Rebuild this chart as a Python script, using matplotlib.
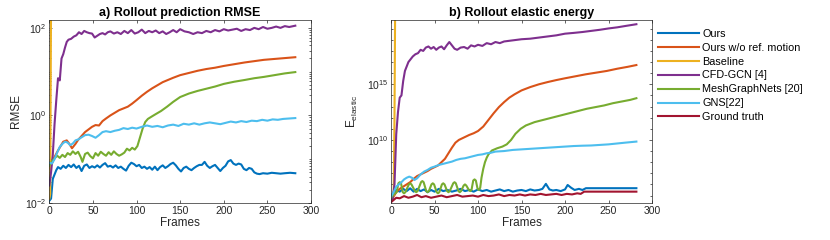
import numpy as np
import matplotlib
matplotlib.use('Agg')
import matplotlib.pyplot as plt
from matplotlib.ticker import FixedLocator, LogLocator, NullFormatter

plt.rcParams['font.family'] = ['Liberation Sans', 'DejaVu Sans']
plt.rcParams['mathtext.fontset'] = 'custom'
plt.rcParams['mathtext.rm'] = 'Liberation Sans'
plt.rcParams['mathtext.it'] = 'Liberation Sans:italic'
plt.rcParams['mathtext.bf'] = 'Liberation Sans:bold'

names = ['Ours', 'Ours w/o ref. motion', 'Baseline', 'CFD-GCN [4]',
         'MeshGraphNets [20]', 'GNS[22]', 'Ground truth']
colors = ['#0072BD', '#D95319', '#EDB120', '#7E2F8E', '#77AC30', '#4DBEEE', '#A2142F']

# ---------- a) RMSE, values given as log10 ----------
ours_f = [0, 2, 4, 6, 8, 10, 13, 16, 19, 22, 25, 28, 31, 34, 37, 40, 43, 46, 49, 52, 55, 58, 61, 64, 67,
          70, 73, 76, 79, 82, 85, 88, 91, 94, 97, 100, 103, 106, 109, 112, 115, 118, 121, 124, 127,
          130, 133, 136, 139, 142, 145, 148, 151, 154, 157, 160, 163, 166, 169, 172, 175, 178, 181,
          184, 187, 190, 193, 196, 199, 202, 205, 208, 211, 214, 217, 220, 223, 226, 229, 232, 235,
          238, 241, 245, 250, 255, 260, 265, 270, 276, 282]
ours_r = [-1.95, -1.9, -1.45, -1.35, -1.25, -1.18, -1.22, -1.15, -1.2, -1.13, -1.18, -1.12, -1.2, -1.15,
          -1.27, -1.15, -1.12, -1.2, -1.16, -1.19, -1.14, -1.19, -1.13, -1.09, -1.17, -1.15, -1.19,
          -1.14, -1.2, -1.17, -1.22, -1.26, -1.15, -1.08, -1.11, -1.16, -1.13, -1.2, -1.17, -1.22,
          -1.18, -1.24, -1.17, -1.25, -1.18, -1.14, -1.2, -1.16, -1.11, -1.08, -1.14, -1.22, -1.28,
          -1.2, -1.17, -1.22, -1.25, -1.2, -1.16, -1.13, -1.13, -1.06, -1.15, -1.2, -1.16, -1.13,
          -1.2, -1.27, -1.2, -1.15, -1.05, -1.02, -1.1, -1.13, -1.1, -1.12, -1.22, -1.25, -1.2,
          -1.22, -1.3, -1.33, -1.34, -1.32, -1.33, -1.31, -1.32, -1.33, -1.32, -1.31, -1.32]

woref_f = [0, 3, 6, 10, 13, 16, 20, 23, 26, 30, 33, 37, 41, 45, 49, 53, 57, 61, 65, 70, 75, 80, 85, 90,
           95, 100, 106, 112, 118, 124, 130, 136, 142, 150, 160, 170, 180, 190, 200, 212, 224, 235,
           246, 258, 270, 282]
woref_r = [-1.2, -1.1, -0.95, -0.8, -0.7, -0.6, -0.57, -0.65, -0.75, -0.65, -0.56, -0.47, -0.38, -0.32,
           -0.26, -0.22, -0.23, -0.13, -0.07, 0.0, 0.06, 0.12, 0.16, 0.2, 0.27, 0.35, 0.45, 0.54, 0.62,
           0.69, 0.76, 0.81, 0.86, 0.92, 0.97, 1.02, 1.06, 1.09, 1.13, 1.17, 1.21, 1.24, 1.27, 1.29,
           1.31, 1.33]

base_f_a = [0, 1, 2, 3]
base_r = [-1.9, -1.8, 2.5, 6.0]

gcn_f_a = [0, 2, 4, 6, 8, 10, 12, 14, 16, 18, 20, 22, 25, 28, 31, 34, 37, 40, 43, 46, 49, 52, 55, 58,
           61, 64, 67, 70, 74, 78, 82, 86, 90, 94, 98, 102, 106, 110, 114, 118, 122, 126, 130, 134,
           138, 142, 146, 150, 155, 160, 165, 170, 175, 180, 185, 190, 195, 200, 205, 210, 215, 220,
           225, 230, 235, 240, 245, 250, 255, 260, 265, 270, 275, 282]
gcn_r = [-1.6, -1.3, -0.9, -0.2, 0.35, 0.85, 0.8, 1.3, 1.4, 1.55, 1.68, 1.73, 1.75, 1.8, 1.83, 1.9,
         1.86, 1.93, 1.9, 1.88, 1.87, 1.78, 1.82, 1.86, 1.88, 1.85, 1.9, 1.92, 1.87, 1.9, 1.86, 1.93,
         1.88, 1.95, 1.87, 1.9, 1.96, 1.88, 1.93, 1.9, 1.94, 1.88, 1.92, 1.86, 1.9, 1.95, 1.9, 1.97,
         1.92, 1.9, 1.86, 1.9, 1.88, 1.93, 1.9, 1.95, 1.92, 1.97, 1.94, 1.96, 1.98, 1.93, 1.97, 1.95,
         2.0, 1.97, 2.02, 1.98, 2.0, 2.03, 2.0, 2.04, 2.02, 2.05]

mgn_f_a = [0, 3, 6, 9, 12, 15, 18, 21, 24, 27, 30, 33, 36, 38, 41, 44, 47, 50, 53, 56, 59, 62, 65, 68,
           71, 74, 77, 80, 83, 86, 89, 92, 95, 98, 101, 104, 107, 110, 113, 117, 122, 128, 135, 142,
           150, 160, 170, 180, 190, 200, 212, 224, 235, 246, 258, 270, 282]
mgn_r = [-1.15, -1.05, -0.98, -0.92, -0.97, -0.9, -0.95, -0.86, -0.9, -0.82, -0.88, -0.83, -0.95, -1.06,
         -0.88, -0.85, -0.93, -0.98, -0.86, -0.92, -0.83, -0.88, -0.92, -0.84, -0.9, -0.82, -0.88,
         -0.92, -0.89, -0.85, -0.76, -0.8, -0.74, -0.78, -0.7, -0.5, -0.3, -0.15, -0.08, -0.03, 0.03,
         0.1, 0.2, 0.31, 0.42, 0.5, 0.56, 0.61, 0.66, 0.72, 0.77, 0.81, 0.85, 0.88, 0.92, 0.96, 0.99]

gns_f_a = [0, 3, 6, 9, 12, 15, 18, 21, 24, 27, 30, 33, 37, 41, 45, 49, 53, 57, 61, 65, 70, 75, 80, 85,
           90, 95, 100, 106, 112, 118, 124, 130, 136, 142, 148, 154, 160, 166, 172, 178, 184, 190,
           196, 202, 208, 214, 220, 226, 232, 238, 244, 250, 256, 262, 268, 275, 282]
gns_r = [-1.08, -1.1, -1.0, -0.85, -0.72, -0.65, -0.6, -0.62, -0.68, -0.64, -0.57, -0.55, -0.5, -0.45,
         -0.44, -0.47, -0.51, -0.45, -0.38, -0.36, -0.38, -0.35, -0.33, -0.29, -0.31, -0.28, -0.3,
         -0.26, -0.23, -0.26, -0.24, -0.27, -0.23, -0.21, -0.24, -0.19, -0.21, -0.18, -0.21, -0.18,
         -0.16, -0.18, -0.2, -0.17, -0.14, -0.16, -0.13, -0.15, -0.12, -0.13, -0.1, -0.12, -0.09,
         -0.1, -0.08, -0.07, -0.06]

# ---------- b) elastic energy, values given as log10 ----------
ours_fb = [0, 3, 6, 10, 14, 18, 22, 26, 30, 34, 38, 42, 46, 50, 55, 60, 65, 70, 75, 80, 85, 90, 95,
           100, 105, 110, 115, 120, 125, 130, 135, 140, 145, 150, 155, 160, 165, 170, 174, 178, 182,
           186, 190, 195, 200, 203, 207, 211, 216, 220, 224, 230, 240, 250, 260, 270, 282]
ours_e = [4.9, 5.3, 5.5, 5.35, 5.6, 5.4, 5.65, 5.35, 5.6, 5.4, 5.55, 5.3, 5.5, 5.35, 5.6, 5.4, 5.5,
          5.35, 5.45, 5.6, 5.4, 5.5, 5.35, 5.55, 5.4, 5.5, 5.35, 5.45, 5.55, 5.4, 5.5, 5.35, 5.45,
          5.5, 5.4, 5.55, 5.45, 5.5, 5.6, 6.05, 5.55, 5.45, 5.5, 5.4, 5.55, 5.95, 5.7, 5.5, 5.6, 5.5,
          5.66, 5.66, 5.66, 5.66, 5.66, 5.66, 5.66]

woref_fb = [0, 3, 6, 10, 14, 18, 22, 26, 30, 34, 38, 42, 46, 50, 54, 58, 62, 66, 70, 74, 78, 82, 86,
            90, 95, 100, 106, 112, 118, 124, 130, 136, 142, 150, 160, 170, 180, 190, 200, 212, 224,
            236, 248, 260, 272, 282]
woref_e = [4.6, 4.9, 5.3, 5.6, 5.8, 6.0, 6.2, 6.5, 6.75, 6.9, 7.05, 7.2, 7.4, 7.55, 7.7, 8.0, 8.3, 8.8,
           9.3, 9.75, 10.0, 10.15, 10.3, 10.45, 10.6, 10.8, 11.2, 11.8, 12.4, 12.95, 13.4, 13.8, 14.1,
           14.45, 14.75, 15.0, 15.2, 15.38, 15.54, 15.72, 15.9, 16.05, 16.2, 16.4, 16.57, 16.73]

base_fb = [0, 3, 4, 5]
base_e = [4.6, 5.0, 12.0, 25.0]

gcn_fb = [0, 2, 4, 6, 8, 10, 12, 14, 16, 18, 20, 22, 25, 28, 31, 34, 37, 40, 43, 46, 49, 52, 55, 58,
          61, 64, 67, 70, 73, 76, 80, 84, 88, 92, 96, 100, 105, 110, 115, 120, 125, 130, 135, 140,
          145, 150, 160, 170, 180, 190, 200, 210, 220, 230, 240, 250, 260, 270, 282]
gcn_e = [4.6, 4.7, 6.0, 10.5, 12.5, 13.8, 14.0, 15.3, 16.2, 16.6, 17.0, 17.2, 17.5, 17.7, 17.8, 18.1,
         18.0, 18.3, 18.4, 18.2, 18.35, 18.1, 18.3, 18.4, 18.15, 18.5, 18.8, 18.5, 18.2, 18.1, 18.3,
         18.35, 18.2, 18.5, 18.4, 18.55, 18.45, 18.7, 18.6, 18.8, 18.7, 18.85, 18.9, 18.95, 19.0,
         19.05, 19.1, 19.2, 19.3, 19.4, 19.55, 19.62, 19.7, 19.8, 19.9, 20.02, 20.12, 20.25, 20.4]

mgn_fb = [0, 3.5, 5, 6.5, 8.5, 10, 11.5, 13.5, 15, 16.5, 20.5, 22, 23.5, 27.5, 29, 30.5, 34.5, 36,
          37.5, 40.5, 42, 43.5, 46.5, 48, 49.5, 52.5, 54, 55.5, 58.5, 60, 61.5, 64.5, 66, 67.5, 71.5,
          73, 74.5, 77.5, 79, 80.5, 83.5, 85, 86.5, 89.5, 91, 92.5, 94.5, 96, 97.5, 99.5, 101, 102.5,
          104, 106, 108, 110, 112, 116, 122, 128, 133, 138, 143, 149, 155, 165, 175, 185, 195, 205,
          215, 225, 235, 245, 255, 265, 275, 282]
mgn_e = [4.8, 5.15, 5.2, 5.3, 6.1, 6.2, 6.1, 5.3, 5.2, 5.3, 6.0, 6.1, 6.0, 5.4, 5.3, 5.4, 6.2, 6.3,
         6.2, 5.4, 5.3, 5.4, 6.0, 6.1, 6.0, 5.3, 5.2, 5.3, 6.0, 6.1, 6.0, 5.4, 5.3, 5.4, 6.1, 6.2, 6.1,
         5.4, 5.3, 5.4, 5.9, 6.0, 5.9, 5.5, 5.4, 5.5, 6.35, 6.45, 6.35, 5.6, 5.5, 5.7, 6.6, 7.4, 8.0,
         8.4, 8.7, 9.05, 9.25, 9.4, 9.6, 10.0, 10.55, 11.0, 11.3, 11.6, 11.8, 12.0, 12.2, 12.4, 12.6,
         12.8, 12.95, 13.1, 13.3, 13.45, 13.6, 13.75]

gns_fb = [0, 3, 6, 9, 12, 15, 18, 21, 24, 27, 30, 34, 38, 42, 46, 50, 55, 60, 65, 70, 75, 80, 85, 90,
          95, 100, 105, 110, 115, 120, 130, 140, 150, 160, 170, 180, 190, 200, 210, 220, 230, 240,
          250, 260, 270, 282]
gns_e = [4.9, 5.3, 5.8, 6.0, 6.2, 6.45, 6.6, 6.7, 6.6, 6.4, 6.55, 6.9, 7.15, 7.3, 7.5, 7.6, 7.75,
         7.85, 7.95, 8.05, 8.2, 8.3, 8.35, 8.45, 8.55, 8.65, 8.7, 8.8, 8.85, 8.95, 9.0, 9.1, 9.15, 9.2,
         9.25, 9.3, 9.35, 9.4, 9.45, 9.48, 9.5, 9.55, 9.6, 9.68, 9.76, 9.85]

gt_fb = [0, 3, 6, 10, 15, 20, 25, 30, 35, 40, 46, 52, 58, 64, 70, 76, 82, 88, 94, 100, 106, 112, 118,
         124, 130, 136, 142, 148, 154, 160, 166, 172, 178, 184, 190, 196, 202, 208, 214, 218, 222,
         230, 240, 250, 260, 270, 282]
gt_e = [4.4, 4.6, 4.8, 4.75, 4.95, 4.8, 4.9, 5.05, 4.85, 4.95, 4.8, 4.9, 5.0, 4.85, 4.95, 5.05, 4.9,
        4.95, 5.0, 4.9, 5.05, 4.95, 5.0, 5.1, 4.95, 5.05, 5.0, 5.1, 5.0, 5.1, 5.05, 5.15, 5.05, 5.1,
        5.15, 5.05, 5.15, 5.1, 5.2, 5.15, 5.35, 5.35, 5.35, 5.35, 5.35, 5.35, 5.35]

panel_a = [(ours_f, ours_r), (woref_f, woref_r), (base_f_a, base_r), (gcn_f_a, gcn_r),
           (mgn_f_a, mgn_r), (gns_f_a, gns_r)]
panel_b = [(ours_fb, ours_e), (woref_fb, woref_e), (base_fb, base_e), (gcn_fb, gcn_e),
           (mgn_fb, mgn_e), (gns_fb, gns_e), (gt_fb, gt_e)]

fig = plt.figure(figsize=(8.3, 2.4), dpi=100)
ax1 = fig.add_axes([0.0594, 0.1542, 0.3153, 0.7625])
ax2 = fig.add_axes([0.4711, 0.1542, 0.3145, 0.7625])

for (f, v), c in zip(panel_a, colors):
    ax1.plot(f, 10 ** np.array(v), color=c, lw=1.5)
lines = []
for (f, v), c, n in zip(panel_b, colors, names):
    ln, = ax2.plot(f, 10 ** np.array(v), color=c, lw=1.5, label=n)
    lines.append(ln)

tc = '#262626'
for ax in (ax1, ax2):
    ax.set_yscale('log')
    ax.set_xlim(0, 300)
    ax.set_xticks(range(0, 301, 50))
    ax.tick_params(which='both', direction='in', top=True, right=True, colors=tc,
                   labelsize=7.5, width=0.5)
    ax.tick_params(which='major', length=2.5, pad=2)
    ax.tick_params(which='minor', length=1.5)
    for s in ax.spines.values():
        s.set_color(tc)
        s.set_linewidth(0.5)
    ax.set_xlabel('Frames', fontsize=8.5, color=tc, labelpad=1)

ax1.set_ylim(1e-2, 10 ** 2.18)
ax1.yaxis.set_major_locator(FixedLocator([1e-2, 1e0, 1e2]))
ax1.yaxis.set_minor_locator(LogLocator(base=10, subs=np.arange(1, 10), numticks=30))
ax1.yaxis.set_minor_formatter(NullFormatter())
ax1.set_ylabel('RMSE', fontsize=8.5, color=tc, labelpad=2)
ax1.set_title('a) Rollout prediction RMSE', fontsize=9, fontweight='bold', pad=3)

ax2.set_ylim(10 ** 4.33, 10 ** 20.78)
ax2.yaxis.set_major_locator(FixedLocator([1e10, 1e15]))
ax2.yaxis.set_minor_locator(LogLocator(base=10, subs=(1.0,), numticks=40))
ax2.yaxis.set_minor_formatter(NullFormatter())
ax2.set_ylabel('E$_{\\mathrm{elastic}}$', fontsize=8.5, color=tc, labelpad=5)
ax2.set_title('b) Rollout elastic energy', fontsize=9, fontweight='bold', pad=3)

fig.legend(handles=lines, loc='upper left', bbox_to_anchor=(0.7928, 0.88), frameon=False,
           fontsize=7.8, handlelength=3.8, handletextpad=0.3, labelspacing=0.36,
           borderpad=0, borderaxespad=0)

fig.savefig('out.png', dpi=100)
